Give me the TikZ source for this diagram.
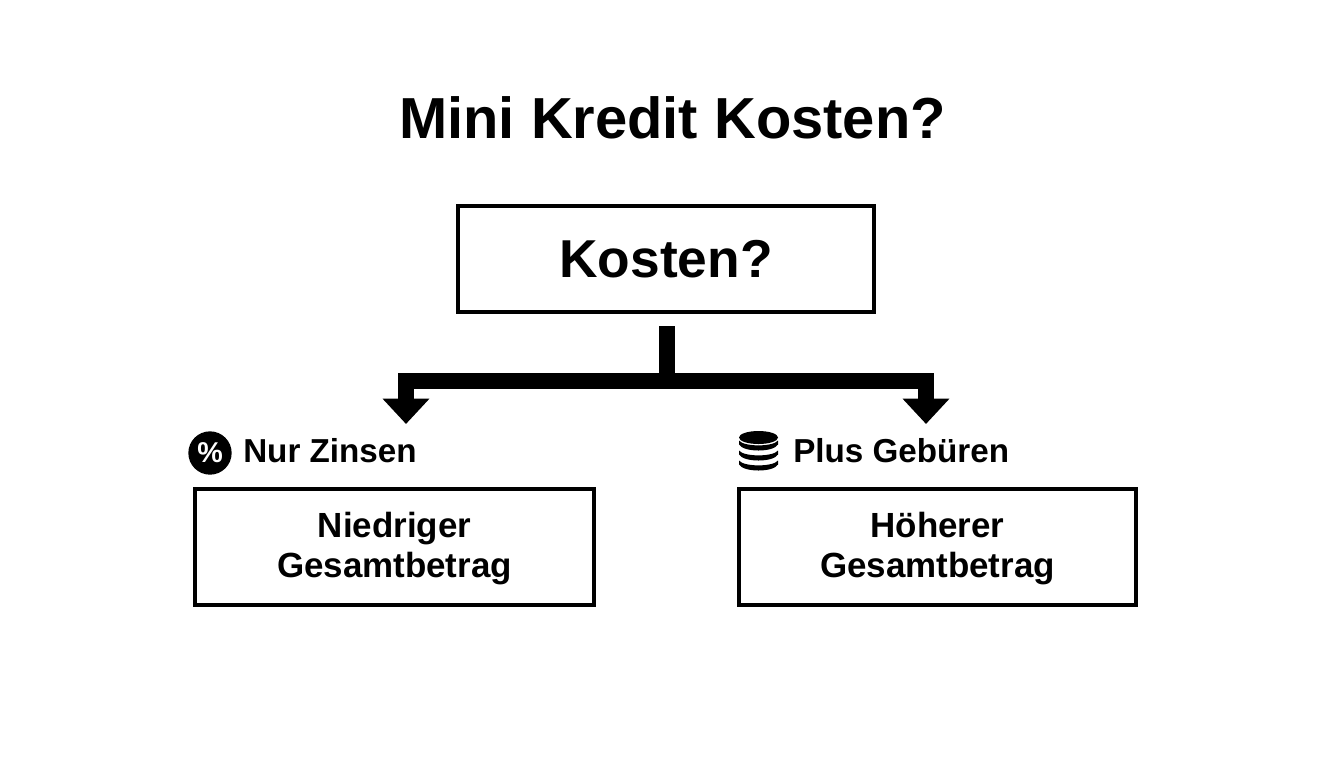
\documentclass[tikz,border=0pt]{standalone}
\usepackage{fontspec}
\setmainfont{Liberation Sans}
\usetikzlibrary{arrows.meta}
\tikzset{
  pxbox/.style={draw=black,line width=3pt,fill=white,inner sep=0pt,align=center,font=\bfseries\fontsize{26.2}{30}\selectfont},
  smalllabel/.style={inner sep=0pt,anchor=west,font=\bfseries\fontsize{24.9}{28}\selectfont},
  connector/.style={draw=black,line width=12pt,line join=miter},
  arrowconn/.style={connector,-{Triangle[width=34pt,length=19pt,inset=0pt]}}
}
\begin{document}
\begin{tikzpicture}[x=0.75pt,y=-0.75pt]
\useasboundingbox (0,0) rectangle (1344,768);
\fill[white] (0,0) rectangle (1344,768);
\node[inner sep=0pt,font=\bfseries\fontsize{43.4}{50}\selectfont] (title) at (672.5,118) {Mini Kredit Kosten?};
\node[pxbox,minimum width=312pt,minimum height=79pt,font=\bfseries\fontsize{40}{46}\selectfont] (cost) at (666,259) {Kosten?};
\node[minimum width=299pt,minimum height=87pt,pxbox] (low) at (394.5,546.5) {\rule{0pt}{22pt}Niedriger\\Gesamtbetrag};
\node[minimum width=298pt,minimum height=87pt,pxbox] (high) at (937.5,546.5) {\rule{0pt}{22pt}Höherer\\Gesamtbetrag};
\node[smalllabel] (lowlabel) at (243,451) {Nur Zinsen};
\node[smalllabel] (highlabel) at (793,451) {Plus Gebüren};
% percent icon
\node[circle,fill=black,text=white,minimum size=32.5pt,inner sep=0pt,font=\bfseries\fontsize{21.5}{24}\selectfont] (pct) at (210,453) {\%};
% database icon
\coordinate (db) at (758.5,451);
\begin{scope}[shift={(db)}]
  \fill[black] (0,-13.5) ellipse [x radius=19.5,y radius=6.5];
  \foreach \yy in {-8,2,12}{
    \fill[black] (-19.5,\yy-2.5) .. controls (-15,\yy+4) and (15,\yy+4) .. (19.5,\yy-2.5)
      -- (19.5,\yy+1.5) .. controls (15,\yy+9.5) and (-15,\yy+9.5) .. (-19.5,\yy+1.5) -- cycle;
  }
\end{scope}
% connectors
\coordinate (stemtop) at (666.5,326);
\coordinate (junction) at (666.5,381);
\coordinate (lefthead) at (406,424);
\coordinate (righthead) at (926,424);
\draw[connector] (stemtop) -- (junction);
\draw[arrowconn] (junction) -| (lefthead);
\draw[arrowconn] (junction) -| (righthead);
\end{tikzpicture}
\end{document}
